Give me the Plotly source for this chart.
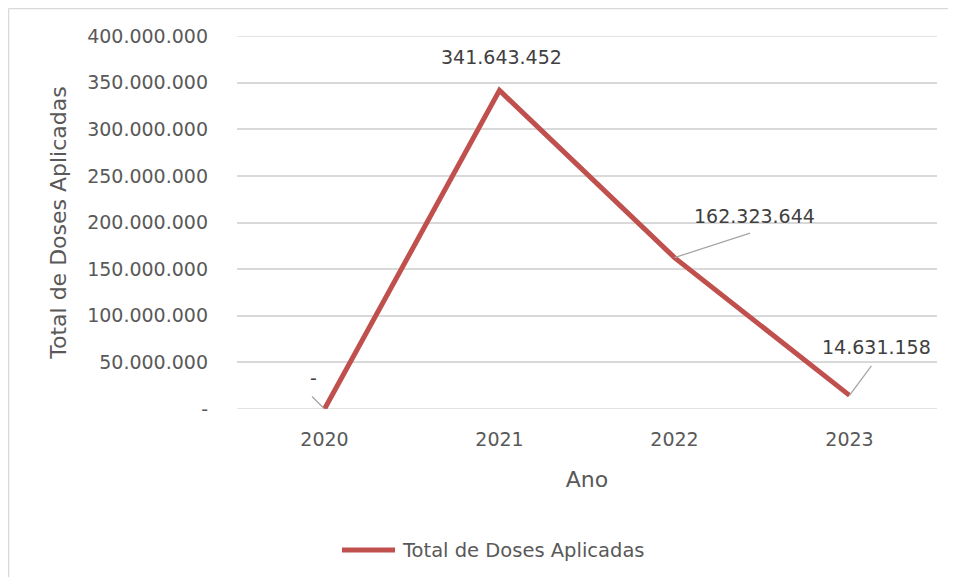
import plotly.graph_objects as go

ANOS = ["2020", "2021", "2022", "2023"]
DOSES = [0, 341643452, 162323644, 14631158]
ROTULOS = ["-", "341.643.452", "162.323.644", "14.631.158"]
Y_TICKS = [0, 50000000, 100000000, 150000000, 200000000, 250000000, 300000000, 350000000, 400000000]
Y_TICKTEXT = ["-", "50.000.000", "100.000.000", "150.000.000", "200.000.000",
              "250.000.000", "300.000.000", "350.000.000", "400.000.000"]
SERIE = "Total de Doses Aplicadas"

RED = "#C0504D"
GRID = "#D9D9D9"
TEXT = "#595959"
FONT = "DejaVu Sans"

# page has an 8px body margin, so the figure is offset by 8px
L, T, PW, PH = 229, 28, 700, 373
R, B = 11, 168

fig = go.Figure()
fig.add_trace(go.Scatter(
    x=ANOS, y=DOSES, mode="lines", name=SERIE, showlegend=False,
    line=dict(color=RED, width=5), hoverinfo="skip",
))

# data labels (px shifts) and leader lines (px offsets)
label_shift = [(-11, 31), (2, 33), (80, 42), (27, 48)]
leader = [(-14, -14), None, (77, -25), (23, -31)]
for i, (val, txt) in enumerate(zip(DOSES, ROTULOS)):
    dx, dy = label_shift[i]
    fig.add_annotation(x=i, y=val, xref="x", yref="y", text=txt,
                       showarrow=False, xshift=dx, yshift=dy,
                       font=dict(size=19, color="#404040", family=FONT))
    if leader[i]:
        fig.add_annotation(x=i, y=val, xref="x", yref="y", text="",
                           showarrow=True, arrowhead=0, arrowwidth=1.3,
                           arrowcolor="#A6A6A6", ax=leader[i][0], ay=leader[i][1])

# gridlines at 0 and 400M (edge lines)
for yv in (Y_TICKS[0], Y_TICKS[-1]):
    fig.add_shape(type="line", xref="paper", yref="y", x0=0, x1=1, y0=yv, y1=yv,
                  line=dict(color=GRID, width=1.5), layer="below")

# chart border (left and top visible)
bx = 0.5 / PW - L / PW
by = 1 + (T - 0.5) / PH
fig.add_shape(type="line", xref="paper", yref="paper",
              x0=bx, x1=1 + R / PW, y0=by, y1=by, line=dict(color=GRID, width=1.5))
fig.add_shape(type="line", xref="paper", yref="paper",
              x0=bx, x1=bx, y0=by, y1=-B / PH, line=dict(color=GRID, width=1.5))

# legend drawn by hand (long line key like the original)
ly = -141 / PH
fig.add_shape(type="line", xref="paper", yref="paper",
              x0=(342 - 237) / PW, x1=(395 - 237) / PW, y0=ly, y1=ly,
              line=dict(color=RED, width=5))
fig.add_annotation(xref="paper", yref="paper", x=(400 - 237) / PW, y=ly,
                   xanchor="left", yanchor="middle", text=SERIE, showarrow=False,
                   font=dict(size=19.5, color=TEXT, family=FONT))

fig.update_layout(
    width=L + PW + R, height=T + PH + B,
    margin=dict(l=L, r=R, t=T, b=B),
    paper_bgcolor="white", plot_bgcolor="white",
    font=dict(family=FONT, color=TEXT, size=19),
    showlegend=False,
    hovermode=False,
)
fig.update_xaxes(
    type="category", range=[-0.5, 3.5], showgrid=False, showline=False,
    zeroline=False, ticks="", ticklabelstandoff=17,
    tickfont=dict(size=19, color=TEXT),
    title=dict(text="Ano", font=dict(size=22, color=TEXT), standoff=22),
)
fig.update_yaxes(
    range=[0, 400000000], tickvals=Y_TICKS, ticktext=Y_TICKTEXT,
    showgrid=True, gridcolor=GRID, gridwidth=1.5, zeroline=False,
    showline=False, ticks="", ticklabelstandoff=28,
    tickfont=dict(size=19, color=TEXT),
    title=dict(text=SERIE, font=dict(size=22, color=TEXT), standoff=14),
)

fig.write_html("out.html")
